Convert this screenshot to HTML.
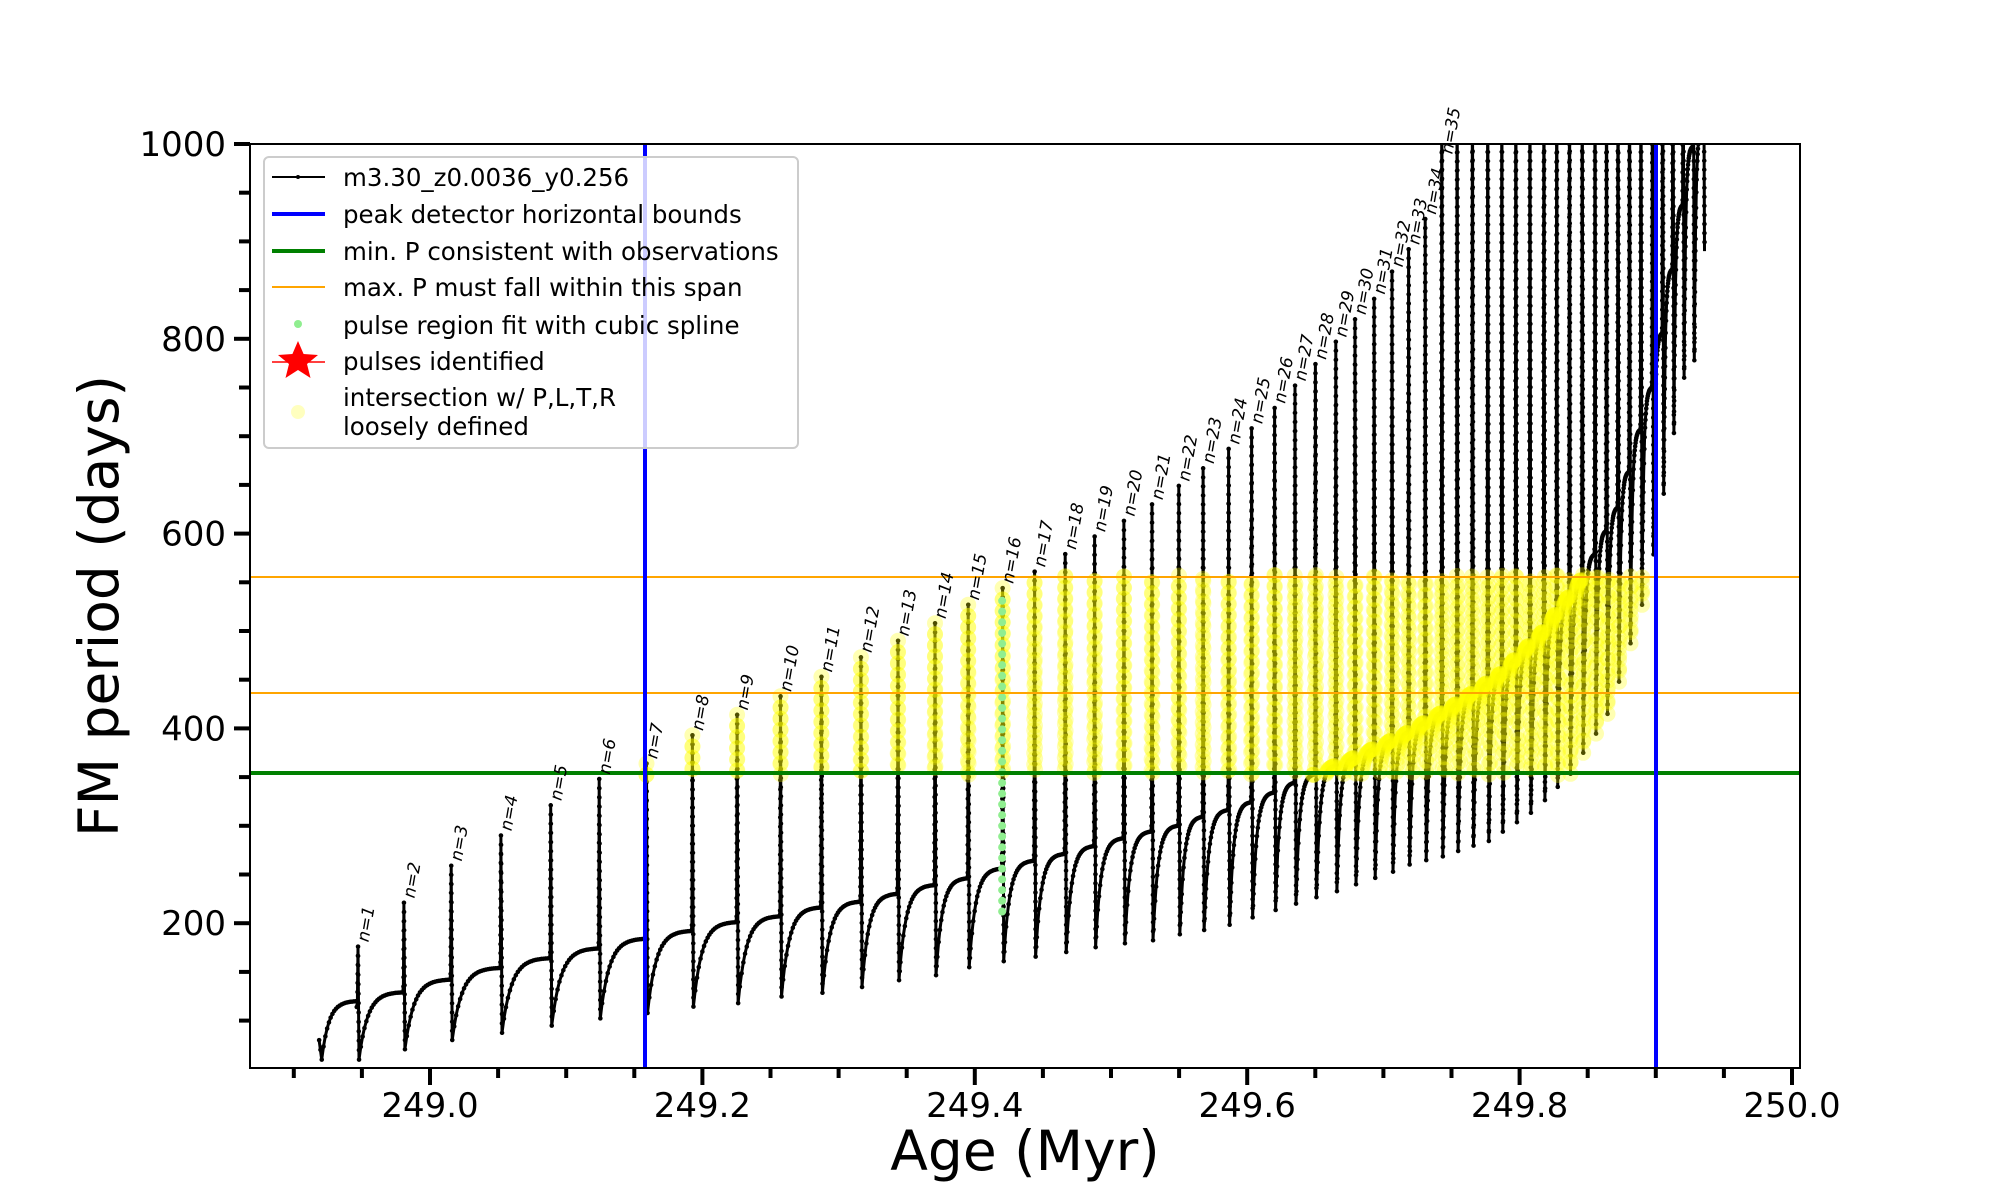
<!DOCTYPE html>
<html><head><meta charset="utf-8">
<style>
html,body{margin:0;padding:0;background:#fff;}
svg{display:block;font-family:"DejaVu Sans","Liberation Sans",sans-serif;}
</style></head>
<body>
<svg id="s" width="2000" height="1200" xmlns="http://www.w3.org/2000/svg">
<defs>
<clipPath id="pc"><rect x="250" y="144" width="1550" height="924"/></clipPath>
<clipPath id="band"><rect x="645" y="577" width="1011" height="196"/></clipPath>
</defs>
<g id="data"></g>
<g id="lines">
<line x1="250" y1="577" x2="1800" y2="577" stroke="#ffa500" stroke-width="2"/>
<line x1="250" y1="693" x2="1800" y2="693" stroke="#ffa500" stroke-width="2"/>
<line x1="250" y1="773" x2="1800" y2="773" stroke="#008000" stroke-width="4"/>
<line x1="645" y1="144" x2="645" y2="1068" stroke="#0000ff" stroke-width="4"/>
<line x1="1656" y1="144" x2="1656" y2="1068" stroke="#0000ff" stroke-width="4"/>
</g>
<g id="labels"></g>
<rect x="250" y="144" width="1550" height="924" fill="none" stroke="#000" stroke-width="2"/>
<g id="ticks"></g>
<g font-size="34" fill="#000" id="tl"></g>
<text x="1025" y="1170" font-size="55" text-anchor="middle">Age (Myr)</text>
<text transform="translate(118,606) rotate(-90)" font-size="55" text-anchor="middle">FM period (days)</text>
<g>
<rect x="264" y="157" width="534" height="291" rx="5" fill="#fff" fill-opacity="0.8" stroke="#cccccc" stroke-width="2"/>
<g font-size="24.5" fill="#000">
<line x1="272" y1="177" x2="325" y2="177" stroke="#000" stroke-width="2"/><circle cx="298" cy="177" r="2"/>
<text x="343" y="186">m3.30_z0.0036_y0.256</text>
<line x1="272" y1="214" x2="325" y2="214" stroke="#0000ff" stroke-width="4"/>
<text x="343" y="223">peak detector horizontal bounds</text>
<line x1="272" y1="251" x2="325" y2="251" stroke="#008000" stroke-width="4"/>
<text x="343" y="260">min. P consistent with observations</text>
<line x1="272" y1="287" x2="325" y2="287" stroke="#ffa500" stroke-width="2"/>
<text x="343" y="296">max. P must fall within this span</text>
<circle cx="298" cy="324" r="4" fill="#90ee90"/>
<text x="343" y="334">pulse region fit with cubic spline</text>
<line x1="272" y1="362" x2="325" y2="362" stroke="#ff0000" stroke-width="1.5"/>
<polygon fill="#ff0000" points="298,341 303.6,354 318,355 307,364 310.5,378 298,370 285.5,378 289,364 278,355 292.4,354"/>
<text x="343" y="370">pulses identified</text>
<circle cx="298" cy="412" r="7" fill="#ffff00" fill-opacity="0.25"/>
<text x="343" y="406">intersection w/ P,L,T,R</text>
<text x="343" y="435">loosely defined</text>
</g>
</g>
</svg>
<script>
(function(){
var NS="http://www.w3.org/2000/svg";
var S=1.2766;
function Y(v){return 144+(1000-v)*0.974;}
function el(n,a,p){var e=document.createElementNS(NS,n);for(var k in a)e.setAttribute(k,a[k]);p.appendChild(e);return e;}
var pts=[[250,120],[280,120],[316,135],[353,148],[392,160],[431,170],[469,180],[506,190],[542,198],[577,207],[611,213],[643,222],[674,228],[703,236],[732,245],[758,252],[785,262],[810,270],[834,277],[857,285],[880,293],[902,300],[923,306],[942,315],[962,322],[980,330],[998,340],[1014,350],[1060,375],[1101,400],[1140,430],[1176,462],[1209,505],[1240,560],[1270,640],[1297,770],[1325,1000],[1400,1200]];
function P(d){for(var i=0;i<pts.length-1;i++){if(d<=pts[i+1][0]){var f=(d-pts[i][0])/(pts[i+1][0]-pts[i][0]);return pts[i][1]+f*(pts[i+1][1]-pts[i][1]);}}return 1200;}
function diff(d){if(d<800)return 75+(d-280)/520*35;if(d<1100)return 110+(d-800)/300*40;return 150+(d-1100)/200*85;}
var pul=[280,316,353,392,431,469,506,542,577,611,643,674,703,732,758,785,810,834,857,880,902,923,942,962,980,998,1014,1030,1046,1061,1076,1090,1103,1116,1129,1141,1153,1165,1176,1187,1198,1209,1219,1229,1239,1249,1258,1267,1276,1285,1294,1302,1310,1318,1326,1334];
var peaks=[176,221,259,290,321,348,364,393,414,433,453,473,490,508,527,544,561,579,597,613,630,649,667,687,708,729,752,774,797,820,841,869,892,923];
var data=document.getElementById('data');
var g=el('g',{'clip-path':'url(#pc)'},data);
var all=[];
var seg=[[250,80],[252,60]];
for(var k=1;k<=20;k++){var u=k/20;var d=252+u*(280-252);var v=60+(P(280)-60)*(1-Math.exp(-5*u))/(1-Math.exp(-5));seg.push([d,v]);}
all.push(seg);
for(var i=0;i<pul.length;i++){
 var d0=pul[i];var pk=i<peaks.length?peaks[i]:1150;
 var nxt=i<pul.length-1?pul[i+1]:d0+4;
 var pn=P(nxt);var mn=pn-diff(d0);
 if(i==pul.length-1){mn=890;}
 var s=[[d0-0.6,P(d0)-6],[d0,P(d0)],[d0+0.4,pk],[d0+1.2,mn]];
 if(i<pul.length-1){
  var n=24;
  for(var k=1;k<=n;k++){var u=k/n;var d=d0+1.2+u*(nxt-0.6-d0-1.2);var v=mn+(pn-6-mn)*(1-Math.exp(-5*u))/(1-Math.exp(-5));s.push([d,v]);}
 }
 all.push(s);
}
var dstr="";
all.forEach(function(s){s.forEach(function(p,j){dstr+=(j?"L":"M")+(p[0]*S).toFixed(1)+" "+Y(p[1]).toFixed(1);});});
el('path',{d:dstr,fill:'none',stroke:'#000','stroke-width':3,'stroke-linejoin':'round'},g);
var mk="";
all.forEach(function(s){for(var j=0;j<s.length-1;j++){var x1=s[j][0]*S,y1=Y(s[j][1]),x2=s[j+1][0]*S,y2=Y(s[j+1][1]);var L=Math.hypot(x2-x1,y2-y1);var m=Math.max(1,Math.floor(L/9));for(var q=0;q<m;q++){var f=q/m;mk+="M"+(x1+f*(x2-x1)).toFixed(1)+" "+(y1+f*(y2-y1)).toFixed(1)+"h0.1";}}});
el('path',{d:mk,stroke:'#000','stroke-width':4.5,'stroke-linecap':'round',fill:'none'},g);
var yfrag="";
all.forEach(function(s){for(var j=0;j<s.length-1;j++){var x1=s[j][0]*S,y1=Y(s[j][1]),x2=s[j+1][0]*S,y2=Y(s[j+1][1]);if(Math.max(y1,y2)<570||Math.min(y1,y2)>780)continue;if(Math.max(x1,x2)<640||Math.min(x1,x2)>1662)continue;var L=Math.hypot(x2-x1,y2-y1);var m=Math.max(1,Math.floor(L/11));for(var q=0;q<m;q++){var f=q/m;var x=x1+f*(x2-x1),y=y1+f*(y2-y1);if(y<575||y>775||x<643||x>1660)continue;yfrag+='<circle cx="'+x.toFixed(1)+'" cy="'+y.toFixed(1)+'" r="8" fill="#ffff00" fill-opacity="0.3"/>';}}});
data.insertAdjacentHTML('beforeend','<g>'+yfrag+'</g>');
var gx=785*S;
for(var v=212;v<=540;v+=11){el('circle',{cx:gx,cy:Y(v),r:4,fill:'#90ee90'},data);}
var lab=document.getElementById('labels');
for(var i=0;i<35;i++){var d=pul[i];var pk=i<peaks.length?peaks[i]:985;var x=d*S+11,y=Y(Math.min(pk,985))-4;
 var t=el('text',{x:0,y:0,'font-size':17,'font-style':'italic',transform:'translate('+x.toFixed(1)+','+y.toFixed(1)+') rotate(-80)'},lab);t.textContent='n='+(i+1);}
var tk=document.getElementById('ticks'),tl=document.getElementById('tl');
for(var v=100;v<=1000;v+=50){var maj=(v%200==0);var y=Y(v);el('line',{x1:maj?234:239,x2:250,y1:y,y2:y,stroke:'#000','stroke-width':4},tk);
 if(maj){var t=el('text',{x:226,y:y+12,'text-anchor':'end'},tl);t.textContent=v;}}
for(var k=0;k<=22;k++){var t0=248.9+k*0.05;var x=430+(t0-249)*1362;if(x<251||x>1800)continue;var maj=(Math.abs(Math.round(t0*5)-t0*5)<1e-6);
 el('line',{x1:x,x2:x,y1:1068,y2:maj?1085:1078,stroke:'#000','stroke-width':4},tk);
 if(maj){var t=el('text',{x:x,y:1117,'text-anchor':'middle'},tl);t.textContent=t0.toFixed(1);}}
})();
</script>
</body></html>
